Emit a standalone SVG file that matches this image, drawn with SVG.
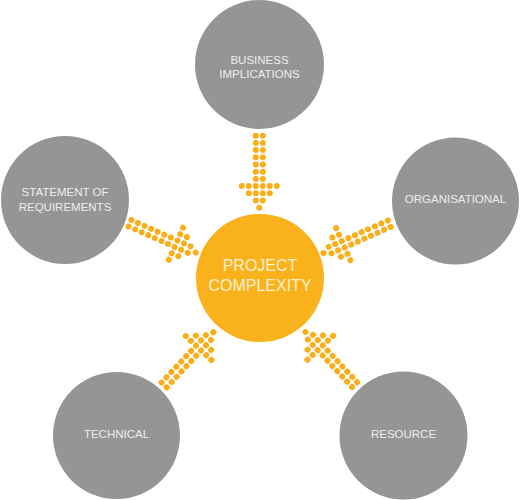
<svg xmlns="http://www.w3.org/2000/svg" xmlns:xlink="http://www.w3.org/1999/xlink" width="520" height="500" viewBox="0 0 520 500">
<style>
.node{fill:#959595}
.core{fill:#F9B21C}
.lbl{font-family:"Liberation Sans",Arial,sans-serif;font-size:11.5px;fill:#EDEDED;text-anchor:middle}
.clbl{font-family:"Liberation Sans",Arial,sans-serif;font-size:16px;fill:#FDF0D2;text-anchor:middle}
.dot{fill:#F9AE1A}
</style>
<defs>
<g id="arrow">
<!-- tip at origin, pointing +x -->
<circle class="dot" cx="-72" cy="-3.5" r="3"/><circle class="dot" cx="-72" cy="3.5" r="3"/>
<circle class="dot" cx="-64.8" cy="-3.5" r="3"/><circle class="dot" cx="-64.8" cy="3.5" r="3"/>
<circle class="dot" cx="-57.6" cy="-3.5" r="3"/><circle class="dot" cx="-57.6" cy="3.5" r="3"/>
<circle class="dot" cx="-50.4" cy="-3.5" r="3"/><circle class="dot" cx="-50.4" cy="3.5" r="3"/>
<circle class="dot" cx="-43.2" cy="-3.5" r="3"/><circle class="dot" cx="-43.2" cy="3.5" r="3"/>
<circle class="dot" cx="-36" cy="-3.5" r="3"/><circle class="dot" cx="-36" cy="3.5" r="3"/>
<circle class="dot" cx="-28.8" cy="-3.5" r="3"/><circle class="dot" cx="-28.8" cy="3.5" r="3"/>
<circle class="dot" cx="-21.6" cy="-17.5" r="3"/><circle class="dot" cx="-21.6" cy="-10.5" r="3"/><circle class="dot" cx="-21.6" cy="-3.5" r="3"/><circle class="dot" cx="-21.6" cy="3.5" r="3"/><circle class="dot" cx="-21.6" cy="10.5" r="3"/><circle class="dot" cx="-21.6" cy="17.5" r="3"/>
<circle class="dot" cx="-14.4" cy="-10.5" r="3"/><circle class="dot" cx="-14.4" cy="-3.5" r="3"/><circle class="dot" cx="-14.4" cy="3.5" r="3"/><circle class="dot" cx="-14.4" cy="10.5" r="3"/>
<circle class="dot" cx="-7.2" cy="-3.5" r="3"/><circle class="dot" cx="-7.2" cy="3.5" r="3"/>
<circle class="dot" cx="0" cy="0" r="3"/>
</g>
</defs>
<g id="connectors">
<use xlink:href="#arrow" href="#arrow" transform="translate(259.3,207.7) rotate(90)"/>
<use xlink:href="#arrow" href="#arrow" transform="translate(195.7,252.5) rotate(24)"/>
<use xlink:href="#arrow" href="#arrow" transform="translate(323.5,253) rotate(156)"/>
<use xlink:href="#arrow" href="#arrow" transform="translate(213.3,332.3) rotate(-47)"/>
<use xlink:href="#arrow" href="#arrow" transform="translate(305.5,332) rotate(-133)"/>
</g>
<g id="business">
<circle class="node" cx="259.5" cy="64.5" r="64.5"/>
<text class="lbl" x="259.5" y="64">BUSINESS</text>
<text class="lbl" x="259.5" y="78">IMPLICATIONS</text>
</g>
<g id="statement">
<circle class="node" cx="65" cy="200" r="64"/>
<text class="lbl" x="65" y="196">STATEMENT OF</text>
<text class="lbl" x="65" y="211">REQUIREMENTS</text>
</g>
<g id="organisational">
<circle class="node" cx="455.5" cy="201" r="63.5"/>
<text class="lbl" x="455.5" y="203">ORGANISATIONAL</text>
</g>
<g id="technical">
<circle class="node" cx="116.5" cy="435.5" r="63.5"/>
<text class="lbl" x="116.5" y="438">TECHNICAL</text>
</g>
<g id="resource">
<circle class="node" cx="403.5" cy="435.5" r="64"/>
<text class="lbl" x="403.5" y="438">RESOURCE</text>
</g>
<g id="project">
<circle class="core" cx="260" cy="278" r="64"/>
<text class="clbl" x="260" y="271">PROJECT</text>
<text class="clbl" x="260" y="291">COMPLEXITY</text>
</g>
</svg>
